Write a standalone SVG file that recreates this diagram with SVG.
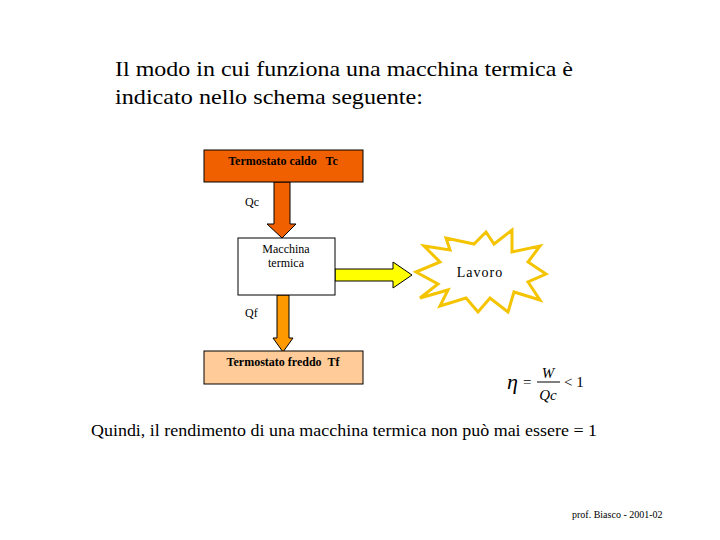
<svg xmlns="http://www.w3.org/2000/svg" width="720" height="540" viewBox="0 0 720 540" font-family="'Liberation Serif','Times New Roman',serif">
<style>
.b{font-weight:bold;font-size:12px}
.s{font-size:12px}
.box{stroke:#000;stroke-width:1}
</style>
<rect width="720" height="540" fill="#fff"/>
<g id="title">
<text x="115" y="76" font-size="21" textLength="458" lengthAdjust="spacingAndGlyphs" font-family="Liberation Serif, serif">Il modo in cui funziona una macchina termica è</text>
<text x="115" y="104" font-size="21" textLength="308" lengthAdjust="spacingAndGlyphs" font-family="Liberation Serif, serif">indicato nello schema seguente:</text>
</g>
<g id="connectors">
<polygon points="274,182 290,182 290,224 296,224 282,238 267,224 274,224" fill="#F06000" stroke="#000"/>
<polygon points="277,295 289,295 289,338 293,338 283,352 273,338 277,338" fill="#FF9900" stroke="#000"/>
<polygon points="335,269 393,269 393,262 412,275 393,288 393,281 335,281" fill="#FFFF00" stroke="#000"/>
</g>
<g id="hot"><rect class="box" x="204" y="150" width="159" height="32" fill="#F06000"/><text class="b" x="283" y="165" text-anchor="middle" font-family="Liberation Serif, serif" xml:space="preserve">Termostato caldo   Tc</text></g>
<g id="cold"><rect class="box" x="204" y="351" width="159" height="33" fill="#FFCC99"/><text class="b" x="283" y="366" text-anchor="middle" font-family="Liberation Serif, serif" xml:space="preserve">Termostato freddo  Tf</text></g>
<g id="machine"><rect class="box" x="238" y="238" width="97" height="57" fill="#fff"/><text class="s" x="286" y="253" text-anchor="middle" font-family="Liberation Serif, serif">Macchina</text><text class="s" x="286" y="267" text-anchor="middle" font-family="Liberation Serif, serif">termica</text></g>
<text class="s" x="245" y="206" font-family="Liberation Serif, serif">Qc</text>
<text class="s" x="245" y="317" font-family="Liberation Serif, serif">Qf</text>
<g id="lavoro"><polygon points="416,272 440,262 424,246 450,250 446,238 474,244 486,232 494,244 512,230 512,252 540,246 528,262 546,274 528,282 540,300 514,292 508,312 490,298 478,312 466,298 440,306 448,290 420,298 438,284" fill="#fff" stroke="#F5C400" stroke-width="3"/><text x="480" y="277" font-size="14" text-anchor="middle" font-family="Liberation Serif, serif" letter-spacing="1">Lavoro</text></g>
<g id="formula" font-family="Liberation Serif, serif">
<text x="507" y="389" font-size="22" font-style="italic" font-family="Liberation Serif, serif">η</text>
<text x="523" y="387" font-size="15" font-family="Liberation Serif, serif">=</text>
<text x="548" y="378" font-size="15" text-anchor="middle" font-style="italic" font-family="Liberation Serif, serif">W</text>
<line x1="537" y1="382" x2="560" y2="382" stroke="#000"/>
<text x="548" y="400" font-size="15" text-anchor="middle" font-style="italic" font-family="Liberation Serif, serif">Qc</text>
<text x="564" y="387" font-size="15" font-family="Liberation Serif, serif">&lt; 1</text>
</g>
<text x="91" y="436" font-size="17" textLength="506" lengthAdjust="spacingAndGlyphs" font-family="Liberation Serif, serif">Quindi, il rendimento di una macchina termica non può mai essere = 1</text>
<text x="572" y="518" font-size="10" font-family="Liberation Serif, serif">prof. Biasco - 2001-02</text>
</svg>
